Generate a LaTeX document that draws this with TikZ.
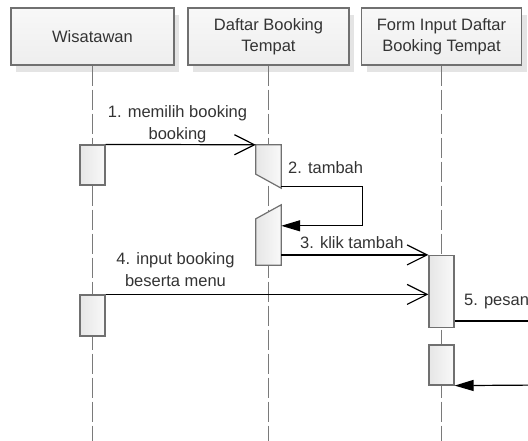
\documentclass[tikz,border=0pt]{standalone}
\usepackage{fontspec}
\setmainfont{Liberation Sans}
\usetikzlibrary{arrows.meta,shadows}

\definecolor{edge}{HTML}{707070}
\definecolor{life}{HTML}{7A7A7A}
\definecolor{ink}{HTML}{333333}
\definecolor{shade}{HTML}{E4E4E4}
\definecolor{headtop}{HTML}{F8F8F8}
\definecolor{headbot}{HTML}{EEEEEE}
\definecolor{actleft}{HTML}{E6E6E6}
\definecolor{actright}{HTML}{F9F9F9}

\newcommand{\seqfont}{\fontsize{16.5}{21.5}\selectfont}

\tikzset{
  header/.style={rectangle, draw=edge, line width=1.2pt,
    top color=headtop, bottom color=headbot,
    minimum height=57pt, inner sep=0pt, align=center,
    text=ink, font=\seqfont,
    general shadow={fill=shade, shadow xshift=5pt, shadow yshift=-7pt}},
  lifeline/.style={draw=life, line width=1.2pt, dash pattern=on 20pt off 4pt},
  act/.style={rectangle, draw=edge, line width=1.2pt,
    left color=actleft, right color=actright,
    minimum width=25pt, inner sep=0pt},
  actslot/.style={rectangle, draw=none, minimum width=25pt, inner sep=0pt},
  actface/.style={draw=edge, line width=1.2pt, left color=actleft, right color=actright},
  msg/.style={draw=black, line width=1.2pt, -{Straight Barb[length=20pt,width=20pt]}},
  sync/.style={draw=black, line width=1.2pt, -{Triangle[length=19pt,width=11pt]}},
  msglabel/.style={text=ink, inner sep=0pt, font=\seqfont, align=center}
}

\begin{document}
\begin{tikzpicture}[x=1pt,y=-1pt]
  \clip (0,0) rectangle (528,441);

  % lifeline heads
  \node[header, minimum width=163pt] (h1) at (92.5,36.5) {Wisatawan};
  \node[header, minimum width=161pt] (h2) at (268.5,36.5) {Daftar Booking\\Tempat};
  \node[header, minimum width=160pt] (h3) at (441.5,36.5) {Form Input Daftar\\Booking Tempat};

  % lifelines down to the foot of the page
  \coordinate (foot) at (0,441);
  \draw[lifeline] (h1.south) -- (h1.south |- foot);
  \draw[lifeline] (h2.south) -- (h2.south |- foot);
  \draw[lifeline] (h3.south) -- (h3.south |- foot);

  % activation bars
  \node[act, minimum height=40pt] (a1) at (92.5,165) {};
  \node[actslot, minimum height=43pt] (a2) at (268.5,166.5) {};
  \path[actface] (a2.north west) -- (a2.north east) -- (a2.south east)
    -- ([yshift=14pt]a2.south west) -- cycle;
  \node[actslot, minimum height=60pt] (a3) at (268.5,235) {};
  \path[actface] ([yshift=-14pt]a3.north west) -- (a3.north east)
    -- (a3.south east) -- (a3.south west) -- cycle;
  \node[act, minimum height=41pt] (a4) at (92.5,315.5) {};
  \node[act, minimum height=72pt] (a5) at (441.5,291.5) {};
  \node[act, minimum height=40pt] (a6) at (441.5,365) {};

  % free ends of the messages leaving to the right
  \coordinate (out5) at (545,321);
  \coordinate (in6) at (545,385);

  % messages
  \draw[msg] (a1.north east) -- (a2.north west);
  \node[msglabel] (l1) at (177.5,124.2) {1. memilih booking\\booking};

  \draw[sync] ([yshift=2pt]a2.south east) -- ++(81,0) |- ([yshift=-21pt]a3.north east);
  \node[msglabel, anchor=west] (l2) at (288,168) {2. tambah};

  \draw[msg] (a3.east |- a5.north west) -- (a5.north west);
  \node[msglabel, anchor=west] (l3) at (300,243) {3. klik tambah};

  \draw[msg] (a4.north east) -- (a5.west |- a4.north east);
  \node[msglabel] (l4) at (175.5,269.5) {4. input booking\\beserta menu};

  \draw[line width=1.2pt] (a5.east |- out5) -- (out5);
  \node[msglabel, anchor=west] (l5) at (464,302) {5. pesan};

  \draw[sync] (in6) -- (a6.south east);
\end{tikzpicture}
\end{document}
